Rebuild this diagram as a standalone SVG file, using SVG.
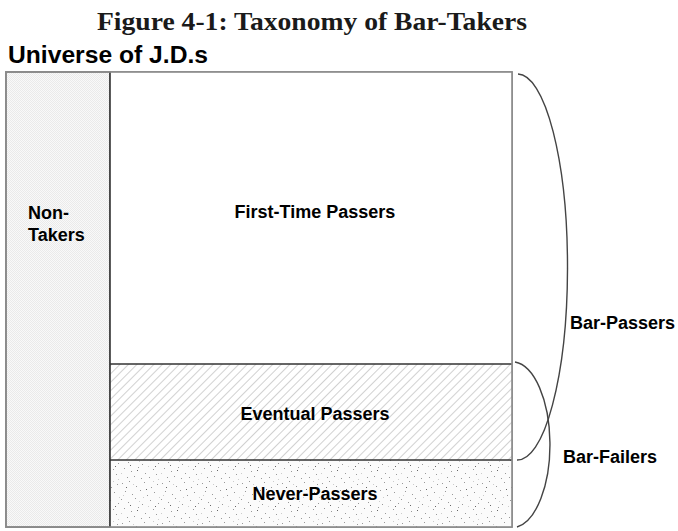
<svg xmlns="http://www.w3.org/2000/svg" width="678" height="531" viewBox="0 0 678 531">
<style>
.lbl{font-family:"Liberation Sans",Arial,sans-serif;font-weight:bold;font-size:18px;fill:#000}
.title{font-family:"Liberation Serif","Times New Roman",serif;font-weight:bold;font-size:26px;fill:#1a1a1a}
.head{font-family:"Liberation Sans",Arial,sans-serif;font-weight:bold;font-size:23px;fill:#000}
.brace{fill:none;stroke:#444;stroke-width:1.4}
.sep{stroke:#333;stroke-width:1.6}
</style>
<defs>
<pattern id="checker" width="2" height="2" patternUnits="userSpaceOnUse">
<rect width="2" height="2" fill="#f9f9f9"/>
<rect width="1" height="1" fill="#eaeaea"/>
<rect x="1" y="1" width="1" height="1" fill="#eaeaea"/>
</pattern>
<pattern id="hatch" width="6" height="6" patternUnits="userSpaceOnUse" patternTransform="rotate(45)">
<rect width="6" height="6" fill="#fff"/>
<line x1="0" y1="0" x2="0" y2="6" stroke="#b8b8b8" stroke-width="1.3"/>
</pattern>
<pattern id="dots" width="40" height="40" patternUnits="userSpaceOnUse">
<rect width="40" height="40" fill="#fbfbfb"/>
<g fill="#999">
<rect x="2" y="3" width="1" height="1"/><rect x="9" y="1" width="1" height="1"/><rect x="16" y="6" width="1" height="1"/>
<rect x="24" y="2" width="1" height="1"/><rect x="31" y="7" width="1" height="1"/><rect x="37" y="4" width="1" height="1"/>
<rect x="5" y="11" width="1" height="1"/><rect x="12" y="14" width="1" height="1"/><rect x="20" y="10" width="1" height="1"/>
<rect x="27" y="15" width="1" height="1"/><rect x="34" y="12" width="1" height="1"/><rect x="1" y="19" width="1" height="1"/>
<rect x="8" y="22" width="1" height="1"/><rect x="15" y="18" width="1" height="1"/><rect x="22" y="24" width="1" height="1"/>
<rect x="30" y="20" width="1" height="1"/><rect x="38" y="23" width="1" height="1"/><rect x="4" y="28" width="1" height="1"/>
<rect x="11" y="31" width="1" height="1"/><rect x="18" y="27" width="1" height="1"/><rect x="25" y="33" width="1" height="1"/>
<rect x="33" y="29" width="1" height="1"/><rect x="7" y="37" width="1" height="1"/><rect x="14" y="36" width="1" height="1"/>
<rect x="21" y="38" width="1" height="1"/><rect x="29" y="37" width="1" height="1"/><rect x="36" y="34" width="1" height="1"/>
</g>
<g fill="#666">
<rect x="6" y="7" width="1" height="1"/><rect x="26" y="9" width="1" height="1"/><rect x="17" y="30" width="1" height="1"/>
<rect x="35" y="26" width="1" height="1"/><rect x="10" y="25" width="1" height="1"/>
</g>
<g fill="#ccc">
<rect x="13" y="4" width="1" height="1"/><rect x="33" y="1" width="1" height="1"/><rect x="3" y="15" width="1" height="1"/>
<rect x="23" y="17" width="1" height="1"/><rect x="39" y="17" width="1" height="1"/><rect x="19" y="21" width="1" height="1"/>
<rect x="1" y="33" width="1" height="1"/><rect x="28" y="26" width="1" height="1"/><rect x="38" y="39" width="1" height="1"/>
</g>
</pattern>
</defs>

<text class="title" x="312" y="30" text-anchor="middle" textLength="430" lengthAdjust="spacingAndGlyphs">Figure 4-1: Taxonomy of Bar-Takers</text>
<text class="head" x="8" y="63" textLength="200" lengthAdjust="spacingAndGlyphs">Universe of J.D.s</text>

<g id="universe">
<rect x="6" y="72" width="506" height="455" fill="#fff" stroke="#8a8a8a" stroke-width="1.6"/>
</g>
<g id="non-takers">
<rect x="6" y="72" width="104" height="455" fill="url(#checker)" stroke="#8a8a8a" stroke-width="1.6"/>
<text class="lbl" x="28" y="219">Non-</text>
<text class="lbl" x="28" y="241">Takers</text>
</g>
<g id="first-time-passers">
<rect x="110" y="72" width="402" height="292" fill="#fff"/>
<text class="lbl" x="315" y="218" text-anchor="middle">First-Time Passers</text>
</g>
<g id="eventual-passers">
<rect x="110" y="364" width="402" height="96" fill="url(#hatch)"/>
<text class="lbl" x="315" y="420" text-anchor="middle">Eventual Passers</text>
</g>
<g id="never-passers">
<rect x="110" y="460" width="402" height="67" fill="url(#dots)"/>
<text class="lbl" x="315" y="500" text-anchor="middle">Never-Passers</text>
</g>
<g id="frame">
<line x1="110" y1="364" x2="512" y2="364" class="sep"/>
<line x1="110" y1="460" x2="512" y2="460" class="sep"/>
<line x1="110" y1="72" x2="110" y2="527" class="sep"/>
<rect x="6" y="72" width="506" height="455" fill="none" stroke="#8a8a8a" stroke-width="1.6"/>
</g>

<g id="connectors">
<path class="brace" d="M518,74 A50,193 0 0 1 517,460"/>
<path class="brace" d="M515,362 A38,83 0 0 1 517,527"/>
</g>
<g id="bar-passers">
<text class="lbl" x="570" y="329">Bar-Passers</text>
</g>
<g id="bar-failers">
<text class="lbl" x="563" y="463">Bar-Failers</text>
</g>
</svg>
